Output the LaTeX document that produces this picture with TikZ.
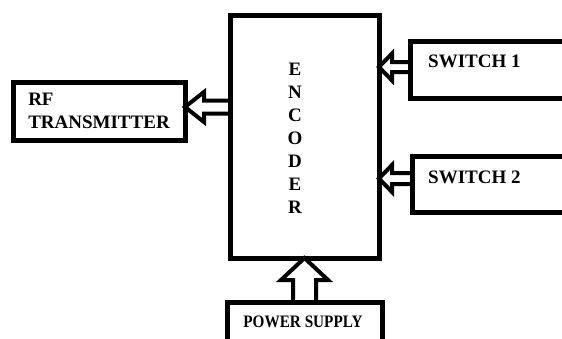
\documentclass[tikz,border=0pt]{standalone}
\usepackage{fontspec}
\setmainfont{Liberation Serif}
\usetikzlibrary{calc,positioning}

\tikzset{
  block/.style={draw, line width=5pt, inner sep=0pt, outer sep=0pt},
  lbl/.style={font=\bfseries\fontsize{19}{23}\selectfont, inner sep=0pt},
  hollow/.style={draw, line width=4pt, fill=white, line join=miter},
}
% tip, tail, head length, head half width, shaft half width
\newcommand{\blockarrow}[5]{%
  \coordinate (#1-h) at ($(#1)!#3!(#2)$);
  \draw[hollow] (#1)
    -- ($(#1-h)!#4!90:(#2)$) -- ($(#1-h)!#5!90:(#2)$)
    -- ($(#2)!#5!-90:(#1)$) -- ($(#2)!#5!90:(#1)$)
    -- ($(#1-h)!#5!-90:(#2)$) -- ($(#1-h)!#4!-90:(#2)$) -- cycle;}

\begin{document}
\begin{tikzpicture}[x=1pt, y=-1pt]
  \useasboundingbox[fill=white] (0,0) rectangle (562,338);

  % Encoder
  \node[block, minimum width=149pt, minimum height=243pt] (enc) at (304.5,136.5) {};
  \node[lbl, align=center] (enctxt) at (295,138) {E\\N\\C\\O\\D\\E\\R};

  % RF transmitter
  \node[block, lbl, align=left, minimum width=172pt, minimum height=58pt] (rf) at (99,111) {RF\\TRANSMITTER};

  % Switches
  \node[block, minimum width=165pt, minimum height=57pt] (sw1) at (492.5,69.5) {};
  \node[lbl, anchor=base west] (sw1txt) at ($(sw1.north west)+(18,26)$) {SWITCH 1};
  \node[block, minimum width=163pt, minimum height=56pt] (sw2) at (493.5,184) {};
  \node[lbl, anchor=base west] (sw2txt) at ($(sw2.north west)+(16,27)$) {SWITCH 2};

  % Power supply
  \node[block, minimum width=155pt, minimum height=44pt] (ps) at (304.5,324) {};
  \node[lbl, font=\bfseries\fontsize{17.5}{20}\selectfont, anchor=base] (pstxt) at ($(ps.north)+(-1.5,25)$) {\scalebox{0.87}[1]{POWER SUPPLY}};

  % Arrows
  \coordinate (rf-a) at ($(rf.east)+(0,-4)$);
  \coordinate (rf-b) at (enc.west |- rf-a);
  \blockarrow{rf-a}{rf-b}{19pt}{15pt}{6.5pt}

  \coordinate (sw1-a) at ($(sw1.west)+(0,-2.5)$);
  \coordinate (sw1-b) at (enc.east |- sw1-a);
  \blockarrow{sw1-b}{sw1-a}{13pt}{13.5pt}{5pt}

  \coordinate (sw2-a) at ($(sw2.west)+(0,-5.5)$);
  \coordinate (sw2-b) at (enc.east |- sw2-a);
  \blockarrow{sw2-b}{sw2-a}{13pt}{13.5pt}{5.5pt}

  \coordinate (ps-a) at (ps.north);
  \coordinate (ps-b) at (enc.south);
  \blockarrow{ps-b}{ps-a}{22pt}{23.5pt}{11.5pt}
\end{tikzpicture}
\end{document}
